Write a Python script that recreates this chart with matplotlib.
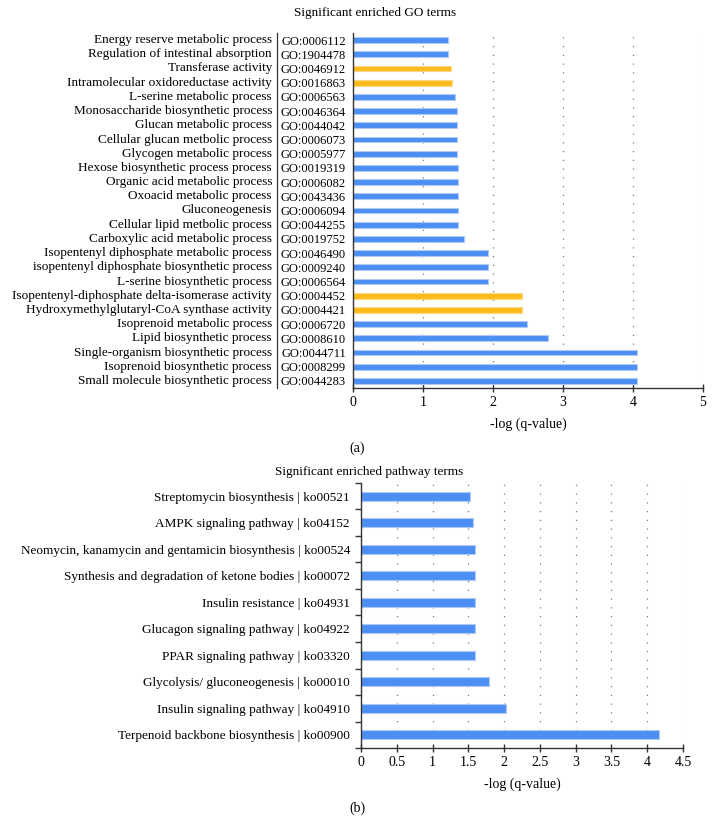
import matplotlib
matplotlib.use("Agg")
import matplotlib.pyplot as plt
import matplotlib.transforms as mtransforms
import numpy as np

plt.rcParams['font.family'] = ['Liberation Serif', 'DejaVu Serif']

# ---------------- data (a) ----------------
go_names = [
    "Energy reserve metabolic process",
    "Regulation of intestinal absorption",
    "Transferase activity",
    "Intramolecular oxidoreductase activity",
    "L-serine metabolic process",
    "Monosaccharide biosynthetic process",
    "Glucan metabolic process",
    "Cellular glucan metbolic process",
    "Glycogen metabolic process",
    "Hexose biosynthetic process process",
    "Organic acid metabolic process",
    "Oxoacid metabolic process",
    "Gluconeogenesis",
    "Cellular lipid metbolic process",
    "Carboxylic acid metabolic process",
    "Isopentenyl diphosphate metabolic process",
    "isopentenyl diphosphate biosynthetic process",
    "L-serine biosynthetic process",
    "Isopentenyl-diphosphate delta-isomerase activity",
    "Hydroxymethylglutaryl-CoA synthase activity",
    "Isoprenoid metabolic process",
    "Lipid biosynthetic process",
    "Single-organism biosynthetic process",
    "Isoprenoid biosynthetic process",
    "Small molecule biosynthetic process",
]
go_ids = [
    "GO:0006112", "GO:1904478", "GO:0046912", "GO:0016863", "GO:0006563",
    "GO:0046364", "GO:0044042", "GO:0006073", "GO:0005977", "GO:0019319",
    "GO:0006082", "GO:0043436", "GO:0006094", "GO:0044255", "GO:0019752",
    "GO:0046490", "GO:0009240", "GO:0006564", "GO:0004452", "GO:0004421",
    "GO:0006720", "GO:0008610", "GO:0044711", "GO:0008299", "GO:0044283",
]
go_values = [
    1.36, 1.36, 1.40, 1.41, 1.46, 1.48, 1.48, 1.48, 1.48, 1.50,
    1.50, 1.50, 1.50, 1.50, 1.59, 1.93, 1.93, 1.93, 2.42, 2.42,
    2.48, 2.78, 4.06, 4.06, 4.06,
]
go_is_function = [
    False, False, True, True, False, False, False, False, False, False,
    False, False, False, False, False, False, False, False, True, True,
    False, False, False, False, False,
]
go_xticks = [0, 1, 2, 3, 4, 5]

# ---------------- data (b) ----------------
kegg_names = [
    "Streptomycin biosynthesis | ko00521",
    "AMPK signaling pathway | ko04152",
    "Neomycin, kanamycin and gentamicin biosynthesis | ko00524",
    "Synthesis and degradation of ketone bodies | ko00072",
    "Insulin resistance | ko04931",
    "Glucagon signaling pathway | ko04922",
    "PPAR signaling pathway | ko03320",
    "Glycolysis/ gluconeogenesis | ko00010",
    "Insulin signaling pathway | ko04910",
    "Terpenoid backbone biosynthesis | ko00900",
]
kegg_values = [1.52, 1.56, 1.60, 1.59, 1.60, 1.60, 1.60, 1.79, 2.02, 4.17]
kegg_xticks = [0, 0.5, 1, 1.5, 2, 2.5, 3, 3.5, 4, 4.5]
kegg_xticklabels = ["0", "0.5", "1", "1.5", "2", "2.5", "3", "3.5", "4", "4.5"]

BLUE = "#4D8EF2"
BLUE_EDGE = "#AECBF7"
YELLOW = "#FBBC1B"
YELLOW_EDGE = "#FCD98A"
SPINE = "#333333"
FS = 9.5

W, H = 714, 834
fig = plt.figure(figsize=(W / 100, H / 100), dpi=100)

def fx(px):
    return px / W

def fy(py):
    return 1 - py / H

def style_axis(ax):
    for s in ["top", "right"]:
        ax.spines[s].set_visible(False)
    for s in ["left", "bottom"]:
        ax.spines[s].set_color(SPINE)
        ax.spines[s].set_linewidth(1.0)
    ax.set_axisbelow(True)
    ax.grid(axis="x", color="#7a7a7a", linestyle=(0, (1, 6)), linewidth=0.9)
    ax.tick_params(axis="x", direction="inout", length=6, width=1.0,
                   color=SPINE, labelsize=FS + 0.5, pad=3)

# ---------------- panel (a) ----------------
ax1 = fig.add_axes([fx(353), fy(388), fx(703) - fx(353), fy(33) - fy(388)])
n1 = len(go_values)
y1 = np.arange(n1)
cols = [YELLOW if f else BLUE for f in go_is_function]
ecols = [YELLOW_EDGE if f else BLUE_EDGE for f in go_is_function]
ax1.barh(y1, go_values, height=0.42, color=cols, edgecolor=ecols, linewidth=0.8)
ax1.set_ylim(n1 - 0.5, -0.5)
ax1.set_xlim(0, 5)
ax1.set_xticks(go_xticks)
ax1.set_yticks(y1)
ax1.set_yticklabels(go_ids, fontsize=9)
ax1.tick_params(axis="y", length=0, pad=5)
style_axis(ax1)
ax1.set_xlabel("-log (q-value)", fontsize=FS + 0.5, labelpad=6)

trans1 = mtransforms.blended_transform_factory(fig.transFigure, ax1.transData)
for yy, name in zip(y1, go_names):
    ax1.text(fx(272), yy, name, transform=trans1, ha="right", va="center",
             fontsize=FS, clip_on=False)
ax1.plot([fx(277), fx(277)], [-0.5, n1 - 0.5], transform=trans1, color=SPINE,
         linewidth=0.9, clip_on=False)

fig.text(fx(375), fy(13), "Significant enriched GO terms", ha="center",
         va="center", fontsize=FS)
fig.text(fx(357), fy(448), "(a)", ha="center", va="center", fontsize=FS + 0.5)

# ---------------- panel (b) ----------------
ax2 = fig.add_axes([fx(361), fy(748), fx(683) - fx(361), fy(483) - fy(748)])
n2 = len(kegg_values)
y2 = np.arange(n2)
ax2.barh(y2, kegg_values, height=0.34, color=BLUE, edgecolor=BLUE_EDGE, linewidth=0.8)
ax2.set_ylim(n2 - 0.5, -0.5)
ax2.set_xlim(0, 4.5)
ax2.set_xticks(kegg_xticks)
ax2.set_xticklabels(kegg_xticklabels)
ax2.set_yticks(y2)
ax2.set_yticklabels(kegg_names, fontsize=FS)
ax2.set_yticks(np.arange(n2 + 1) - 0.5, minor=True)
ax2.tick_params(axis="y", which="major", length=0, pad=8)
ax2.tick_params(axis="y", which="minor", length=4, width=1.0, color=SPINE, direction="out")
style_axis(ax2)
ax2.set_xlabel("-log (q-value)", fontsize=FS + 0.5, labelpad=6)

fig.text(fx(369), fy(472), "Significant enriched pathway terms", ha="center",
         va="center", fontsize=FS)
fig.text(fx(357), fy(808), "(b)", ha="center", va="center", fontsize=FS + 0.5)

fig.savefig("out.png", dpi=100)
